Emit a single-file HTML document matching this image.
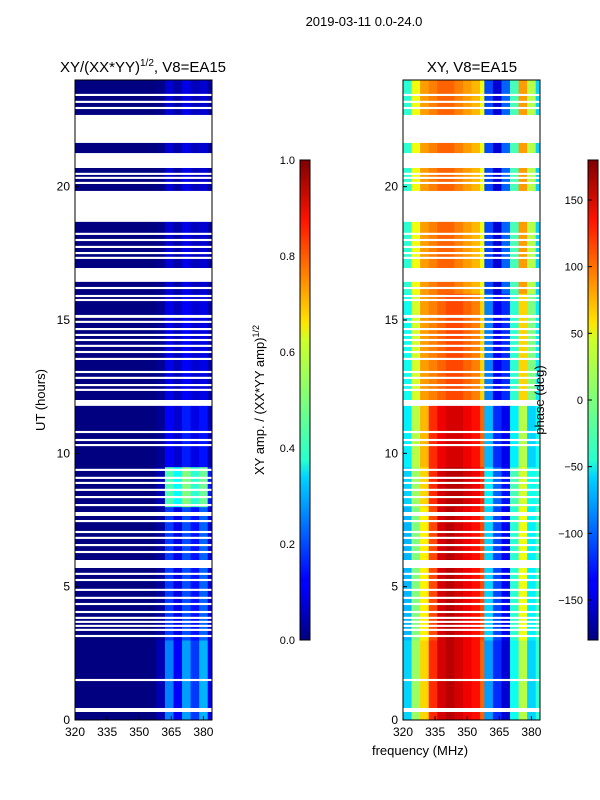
<!DOCTYPE html>
<html><head><meta charset="utf-8">
<style>
html,body{margin:0;padding:0;background:#fff;}
svg{display:block;font-family:"Liberation Sans",sans-serif;}
</style></head>
<body>
<svg id="fig" width="600" height="800" viewBox="0 0 600 800">
<defs>
<linearGradient id="jet" x1="0" y1="1" x2="0" y2="0">
<stop offset="0" stop-color="#00007f"/><stop offset="0.11" stop-color="#0000ff"/>
<stop offset="0.125" stop-color="#0000ff"/><stop offset="0.34" stop-color="#00d4ff"/>
<stop offset="0.375" stop-color="#29ffce"/><stop offset="0.5" stop-color="#7dff7a"/>
<stop offset="0.625" stop-color="#ceff29"/><stop offset="0.66" stop-color="#ffe500"/>
<stop offset="0.875" stop-color="#ff1300"/><stop offset="1" stop-color="#7f0000"/>
</linearGradient>
</defs>
<text x="364" y="26" text-anchor="middle" font-size="13">2019-03-11 0.0-24.0</text>
<text x="143" y="72" text-anchor="middle" font-size="15">XY/(XX*YY)<tspan font-size="10" dy="-6">1/2</tspan><tspan dy="6">, V8=EA15</tspan></text>
<text x="472" y="72" text-anchor="middle" font-size="15">XY, V8=EA15</text>
<g id="ampPanel"></g>
<g id="phPanel"></g>
<g id="axes"></g>
<text transform="translate(45,400) rotate(-90)" text-anchor="middle" font-size="13">UT (hours)</text>
<text x="420" y="755" text-anchor="middle" font-size="13">frequency (MHz)</text>
<rect x="300" y="160" width="10" height="480" fill="url(#jet)" stroke="#000" stroke-width="1"/>
<rect x="588" y="160" width="10" height="480" fill="url(#jet)" stroke="#000" stroke-width="1"/>
<text transform="translate(264,400) rotate(-90)" text-anchor="middle" font-size="13">XY amp. / (XX*YY amp)<tspan font-size="9" dy="-5">1/2</tspan></text>
<text transform="translate(544,400) rotate(-90)" text-anchor="middle" font-size="13">phase (deg)</text>
<g id="cbticks"></g>
</svg>
<script>
// ---- data ----
const freqEdges = [320,324,328,332,336,340,344,348,352,356,358,362,366,370,374,378,382,384];
const segEdges = [0,3,8,9.5,12,16,24];
const ampMatrix = [
 [0,0,0,0,0,0,0,0,0,0,0.05,0.25,0.12,0.28,0.18,0.3,0.1],
 [0,0,0,0,0,0,0,0,0,0,0.03,0.18,0.1,0.2,0.14,0.22,0.08],
 [0,0,0,0,0,0,0,0,0,0,0.05,0.45,0.38,0.5,0.42,0.48,0.15],
 [0,0,0,0,0,0,0,0,0,0,0.02,0.12,0.08,0.15,0.1,0.14,0.05],
 [0,0,0,0,0,0,0,0,0,0,0.02,0.1,0.06,0.12,0.08,0.1,0.04],
 [0,0,0,0,0,0,0,0,0,0,0.01,0.08,0.04,0.1,0.06,0.08,0.03]
];
const phaseMatrix = [
 [-60,10,60,120,150,160,150,140,130,100,-80,-120,-150,-40,20,-60,-30],
 [-70,0,50,110,150,160,150,140,130,110,-60,-110,-140,-30,40,-50,-20],
 [-60,10,60,120,150,160,160,150,140,120,-50,-100,-130,-20,30,-40,-30],
 [-50,20,70,120,140,150,150,140,130,100,-70,-120,-140,-50,20,-60,-40],
 [-40,30,80,90,100,110,110,100,90,60,-90,-140,-120,-30,60,0,-50],
 [-30,40,80,90,100,100,90,80,70,40,-110,-150,-100,-20,80,20,-60]
];
const gaps = [[23.40,23.48],[23.14,23.22],[22.91,22.99],[21.64,22.69],[20.70,21.26],[20.44,20.52],[20.29,20.37],[20.10,20.18],[18.68,19.84],[18.19,18.27],[17.96,18.04],[17.70,17.78],[17.47,17.55],[17.29,17.37],[16.43,16.95],[16.16,16.24],[15.86,15.94],[15.71,15.79],[15.08,15.19],[14.89,14.97],[14.62,14.70],[14.40,14.48],[14.21,14.29],[13.99,14.07],[13.76,13.84],[13.50,13.58],[13.01,13.09],[12.79,12.87],[12.52,12.60],[12.34,12.42],[11.78,12.0],[10.76,10.84],[10.46,10.54],[10.27,10.35],[9.34,9.42],[9.04,9.12],[8.85,8.93],[8.59,8.67],[8.32,8.40],[8.02,8.10],[7.65,7.80],[7.42,7.50],[7.01,7.09],[6.79,6.87],[6.52,6.60],[6.26,6.34],[5.70,6.0],[5.44,5.52],[5.21,5.29],[4.84,4.92],[4.54,4.62],[4.31,4.39],[4.01,4.09],[3.79,3.87],[3.64,3.72],[3.49,3.57],[3.34,3.42],[3.11,3.19],[1.46,1.54],[0.30,0.45]];
const xTicks = [320,335,350,365,380];
const yTicks = [0,5,10,15,20];
const ampCbTicks = [0.0,0.2,0.4,0.6,0.8,1.0];
const phCbTicks = [-150,-100,-50,0,50,100,150];

const NS="http://www.w3.org/2000/svg";
function jet(v){v=Math.max(0,Math.min(1,v));
 const r=Math.max(0,Math.min(1,1.5-Math.abs(4*v-3)));
 const g=Math.max(0,Math.min(1,1.5-Math.abs(4*v-2)));
 const b=Math.max(0,Math.min(1,1.5-Math.abs(4*v-1)));
 return `rgb(${Math.round(r*255)},${Math.round(g*255)},${Math.round(b*255)})`;}
function mk(tag,attrs,parent){const e=document.createElementNS(NS,tag);for(const k in attrs)e.setAttribute(k,attrs[k]);parent.appendChild(e);return e;}
const panels=[{x0:75,id:'ampPanel'},{x0:403,id:'phPanel'}];
const Y0=720,Y1=80;
function yS(h){return Y0-h*(Y0-Y1)/24;}
function xS(x0,f){return x0+(f-320)*(137/(384-320));}

panels.forEach((p,pi)=>{
 const g=document.getElementById(p.id);
 for(let s=0;s<segEdges.length-1;s++){
  for(let c=0;c<freqEdges.length-1;c++){
   const v = pi===0 ? ampMatrix[s][c] : (phaseMatrix[s][c]+180)/360;
   const r=mk('rect',{x:xS(p.x0,freqEdges[c]),y:yS(segEdges[s+1]),width:xS(p.x0,freqEdges[c+1])-xS(p.x0,freqEdges[c])+0.5,height:yS(segEdges[s])-yS(segEdges[s+1])+0.5,fill:jet(v)},g);
   
   
  }
 }
 gaps.forEach(gp=>{
  const r=mk('rect',{x:p.x0,y:yS(gp[1]),width:137,height:Math.max(1.5,yS(gp[0])-yS(gp[1])),fill:'#fff'},g);
  
  
 });
 const ax=document.getElementById('axes');
 const fr=mk('rect',{x:p.x0,y:Y1,width:137,height:Y0-Y1,fill:'none',stroke:'#000','stroke-width':1},ax);
 
 
 xTicks.forEach(t=>{const x=xS(p.x0,t);
  mk('line',{x1:x,x2:x,y1:Y0,y2:Y0-4,stroke:'#000'},ax);
  const tx=mk('text',{x:x,y:Y0+16,'text-anchor':'middle','font-size':12},ax);tx.textContent=t;
  
  });
 yTicks.forEach(t=>{const y=yS(t);
  mk('line',{x1:p.x0,x2:p.x0+4,y1:y,y2:y,stroke:'#000'},ax);
  const tx=mk('text',{x:p.x0-5,y:y+4,'text-anchor':'end','font-size':12},ax);tx.textContent=t;
  
  });
});
const cb=document.getElementById('cbticks');
ampCbTicks.forEach(t=>{const y=640-t*480;
 const tx=mk('text',{x:295,y:y+4,'text-anchor':'end','font-size':11},cb);tx.textContent=t.toFixed(1);
 
 });
phCbTicks.forEach(t=>{const y=640-(t+180)/360*480;
 mk('line',{x1:588,x2:592,y1:y,y2:y,stroke:'#000'},cb);
 const tx=mk('text',{x:583,y:y+4,'text-anchor':'end','font-size':11},cb);tx.textContent=t<0?'\u2212'+(-t):t;
 
 });
</script>
</body></html>
